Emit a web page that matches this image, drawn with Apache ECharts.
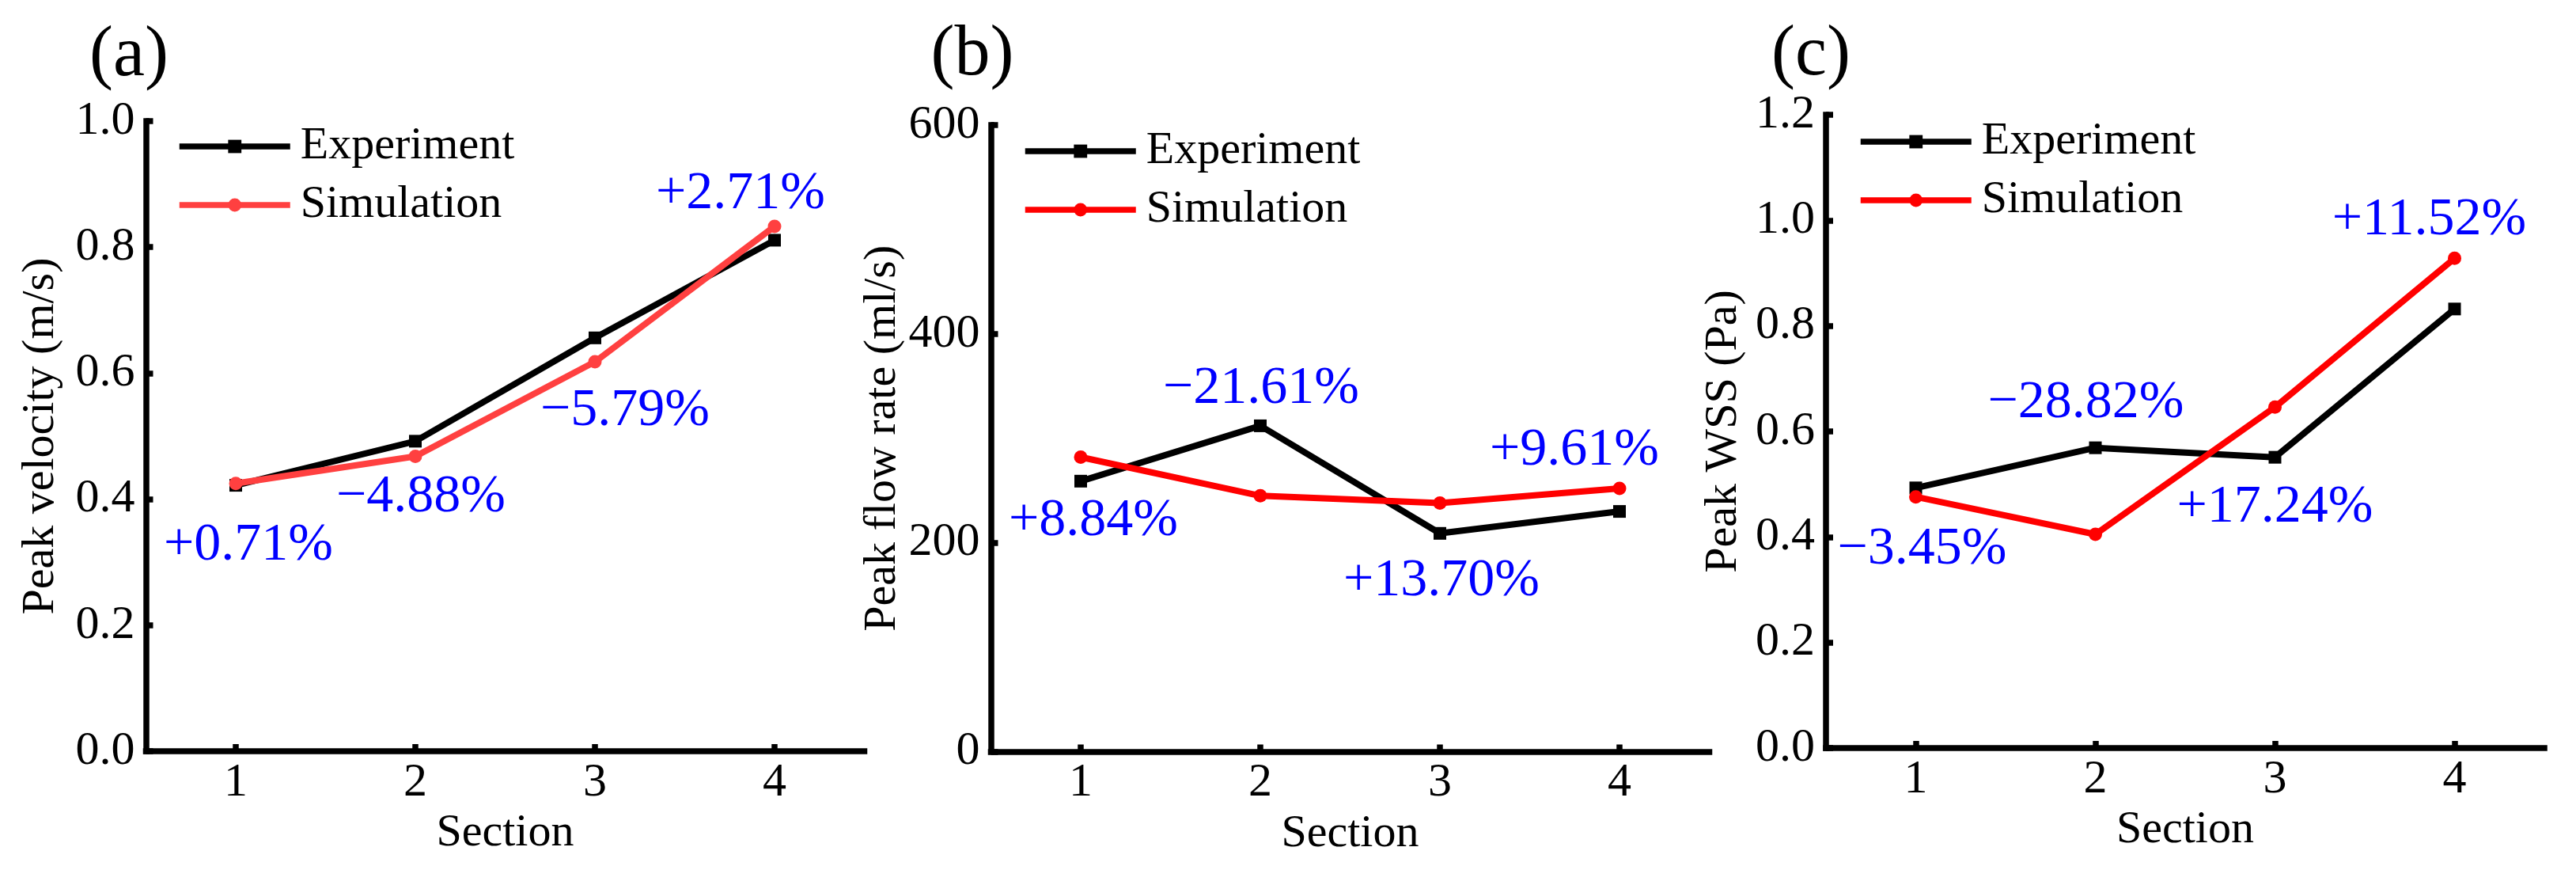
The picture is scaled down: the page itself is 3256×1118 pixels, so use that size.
<!DOCTYPE html>
<html><head><meta charset="utf-8">
<script src="https://cdn.jsdelivr.net/npm/echarts@6/dist/echarts.min.js"></script>
<style>
html,body{margin:0;padding:0;background:#fff;width:3256px;height:1118px;overflow:hidden}
.c{position:absolute;left:0;top:0;width:3256px;height:1118px}
</style>
</head><body>
<div id="pa" class="c"></div><div id="pb" class="c"></div><div id="pc" class="c"></div>
<script>
// ---- data ----
const sections = ['1', '2', '3', '4'];
const velExp = [0.422, 0.492, 0.656, 0.811];
const velSim = [0.425, 0.468, 0.618, 0.833];
const velDiff = ['+0.71%', '\u22124.88%', '\u22125.79%', '+2.71%'];
const velTicks = [0, 0.2, 0.4, 0.6, 0.8, 1.0];

const flowExp = [259, 312, 209, 230];
const flowSim = [282, 245, 238, 252];
const flowDiff = ['+8.84%', '\u221221.61%', '+13.70%', '+9.61%'];
const flowTicks = [0, 200, 400, 600];

const wssExp = [0.493, 0.569, 0.551, 0.832];
const wssSim = [0.476, 0.405, 0.646, 0.928];
const wssDiff = ['\u22123.45%', '\u221228.82%', '+17.24%', '+11.52%'];
const wssTicks = [0, 0.2, 0.4, 0.6, 0.8, 1.0, 1.2];

const seriesNames = ['Experiment', 'Simulation'];
const xName = 'Section';

// ---- layout / style ----
const FONT = "'Liberation Serif', 'Times New Roman', serif";
const panels = [
  { el: 'pa', tag: '(a)', tagPos: [163, 71], exp: velExp, sim: velSim, diff: velDiff, ticks: velTicks, digits: 1,
    yName: 'Peak velocity (m/s)', yNameGap: 104,
    grid: { left: 184.5, right: 2163.5, top: 153, bottom: 169 },
    legend: { left: 223, top: 156 }, simColor: '#ff4040',
    anchor: ['s', 's', 's', 's'], offsets: [[16, 78], [7, 52], [38, 62], [-43, -41]] },
  { el: 'pb', tag: '(b)', tagPos: [1229, 70], exp: flowExp, sim: flowSim, diff: flowDiff, ticks: flowTicks, digits: 0,
    yName: 'Peak flow rate (ml/s)', yNameGap: 105,
    grid: { left: 1252.5, right: 1095.5, top: 158, bottom: 168.5 },
    legend: { left: 1292, top: 162 }, simColor: '#ff0000',
    anchor: ['s', 'e', 'e', 's'], offsets: [[16, 81], [1, -47], [2, 60], [-57, -48]] },
  { el: 'pc', tag: '(c)', tagPos: [2289, 70], exp: wssExp, sim: wssSim, diff: wssDiff, ticks: wssTicks, digits: 1,
    yName: 'Peak WSS (Pa)', yNameGap: 100,
    grid: { left: 2308, right: 40, top: 145, bottom: 173 },
    legend: { left: 2348, top: 150 }, simColor: '#ff0000',
    anchor: ['s', 'e', 'e', 's'], offsets: [[8, 66], [-12, -57], [0, 63], [-32, -48]] }
];

const AXW = 7.5;
const annoStyle = { fontSize: 68, fontFamily: FONT, color: '#0000ff' };

function buildData(values, p, key) {
  return values.map(function (v, i) {
    if (p.anchor[i] !== key) return v;
    return {
      value: v,
      label: Object.assign({
        show: true, position: 'inside', formatter: p.diff[i], offset: p.offsets[i]
      }, annoStyle)
    };
  });
}

panels.forEach(function (p) {
  const chart = echarts.init(document.getElementById(p.el), null, { renderer: 'canvas' });
  const t = p.ticks;
  const option = {
    backgroundColor: p.el === 'pa' ? '#ffffff' : 'transparent',
    animation: false,
    textStyle: { fontFamily: FONT },
    graphic: [{
      type: 'text', x: p.tagPos[0], y: p.tagPos[1],
      style: { text: p.tag, font: '90px ' + FONT, fill: '#000', align: 'center', verticalAlign: 'middle' }
    }],
    grid: Object.assign({ outerBoundsMode: 'none', containLabel: false }, p.grid),
    legend: {
      left: p.legend.left, top: p.legend.top, orient: 'vertical',
      data: seriesNames, itemWidth: 140, itemHeight: 21, itemGap: 16, padding: 0,
      lineStyle: { width: AXW },
      textStyle: { fontSize: 58, fontFamily: FONT, color: '#000', lineHeight: 58, padding: [0, 0, 0, 8] },
      selectedMode: false
    },
    xAxis: {
      type: 'category', data: sections, boundaryGap: true,
      name: xName, nameLocation: 'middle', nameGap: 71,
      nameTextStyle: { fontSize: 58, fontFamily: FONT, color: '#000' },
      axisLine: { show: true, lineStyle: { color: '#000', width: AXW, cap: 'square' } },
      axisTick: { show: true, inside: true, alignWithLabel: true, length: 9, lineStyle: { color: '#000', width: AXW } },
      axisLabel: { fontSize: 60, fontFamily: FONT, color: '#000', margin: 10 },
      splitLine: { show: false }
    },
    yAxis: {
      type: 'value', min: t[0], max: t[t.length - 1], interval: t[1] - t[0],
      name: p.yName, nameLocation: 'middle', nameGap: p.yNameGap,
      nameTextStyle: { fontSize: 58, fontFamily: FONT, color: '#000' },
      axisLine: { show: true, lineStyle: { color: '#000', width: AXW, cap: 'square' } },
      axisTick: { show: true, inside: true, length: 9, lineStyle: { color: '#000', width: AXW } },
      axisLabel: { fontSize: 60, fontFamily: FONT, color: '#000', margin: 14,
        formatter: function (v) { return Number(v).toFixed(p.digits); } },
      splitLine: { show: false }
    },
    series: [
      { name: seriesNames[0], type: 'line', data: buildData(p.exp, p, 'e'),
        symbol: 'rect', symbolSize: 16, showSymbol: true, showAllSymbol: true,
        lineStyle: { color: '#000', width: 8 }, itemStyle: { color: '#000' }, z: 3 },
      { name: seriesNames[1], type: 'line', data: buildData(p.sim, p, 's'),
        symbol: 'circle', symbolSize: 17, showSymbol: true, showAllSymbol: true,
        lineStyle: { color: p.simColor, width: 8 }, itemStyle: { color: p.simColor }, z: 4 }
    ]
  };
  chart.setOption(option);
});
</script>
</body></html>
